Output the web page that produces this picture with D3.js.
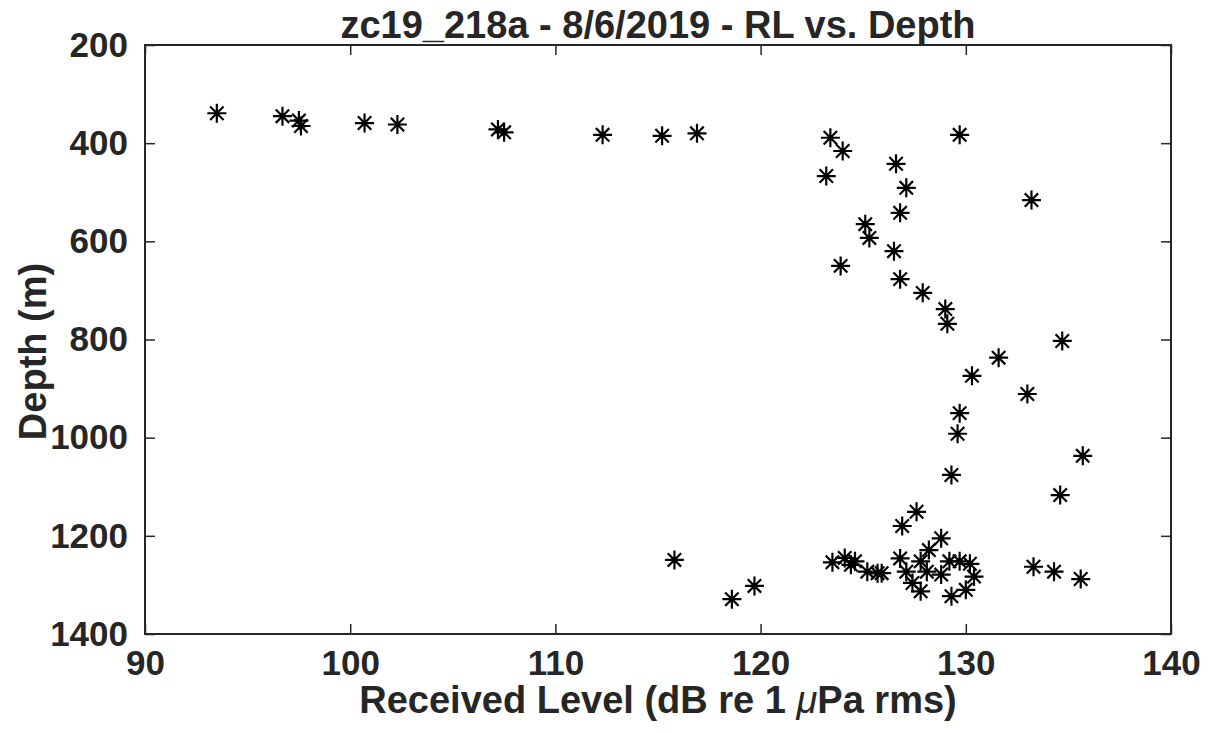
<!DOCTYPE html>
<html>
<head>
<script src="https://d3js.org/d3.v7.min.js"></script>
<style>
  body { margin: 0; background: #fff; }
  text { font-family: "Liberation Sans", Arial, sans-serif; font-weight: bold; fill: #262626; }
</style>
</head>
<body>
<svg class="target"></svg>
<script>

// received level (dB re 1 uPa rms) and depth (m)
rl = [93.5, 96.7, 97.5, 97.6, 100.7, 102.3, 107.2, 107.5, 112.3, 115.2, 116.9,
      123.4, 124.0, 123.2, 126.6, 127.1, 126.8, 129.7, 133.2, 125.1, 125.3,
      126.5, 123.9, 126.8, 127.9, 129.0, 129.1, 134.7, 131.6, 130.3, 133.0,
      129.7, 129.6, 135.7, 129.3, 134.6, 127.6, 126.9, 128.8, 128.2, 126.8,
      127.8, 129.2, 129.7, 130.2, 127.1, 128.1, 128.8, 130.4, 127.4, 127.8,
      129.3, 130.0, 125.9, 123.5, 124.1, 124.4, 124.6, 125.2, 125.7, 115.8,
      118.6, 119.7, 133.3, 134.3, 135.6]
depth = [339, 345, 354, 365, 359, 362, 372, 378, 383, 385, 380,
         389, 416, 467, 442, 491, 542, 383, 516, 565, 593,
         620, 650, 677, 705, 738, 768, 803, 837, 874, 911,
         950, 992, 1037, 1076, 1117, 1151, 1180, 1205, 1229, 1246,
         1252, 1252, 1252, 1257, 1273, 1273, 1279, 1283, 1296, 1313,
         1323, 1310, 1276, 1254, 1245, 1259, 1252, 1273, 1276, 1249,
         1329, 1302, 1263, 1273, 1288]

xTicks = [90, 100, 110, 120, 130, 140]
yTicks = [200, 400, 600, 800, 1000, 1200, 1400]

titleText = 'zc19_218a - 8/6/2019 - RL vs. Depth'
xLabelParts = ['Received Level (dB re 1 ', '\u03bc', 'Pa rms)']
yLabel = 'Depth (m)'

width = 1209
height = 733
margin = ({ top: 45, right: 38, bottom: 99, left: 145 })

svg = d3.select('.target')
  .attr('width', width)
  .attr('height', height)

x = d3.scaleLinear().domain([90, 140]).range([margin.left, width - margin.right])
y = d3.scaleLinear().domain([200, 1400]).range([margin.top, height - margin.bottom])

axisColor = '#262626'
tickLen = 10

// box
svg.append('rect')
  .attr('x', x(90)).attr('y', y(200))
  .attr('width', x(140) - x(90)).attr('height', y(1400) - y(200))
  .attr('fill', 'none').attr('stroke', axisColor).attr('stroke-width', 2)

// axes, ticks pointing inward
function styleAxis(g) {
  g.select('.domain').remove()
  g.selectAll('.tick line').attr('stroke', axisColor).attr('stroke-width', 1.5)
  g.selectAll('.tick text').attr('font-size', 35).attr('fill', axisColor)
    .style('font-family', '"Liberation Sans", Arial, sans-serif').style('font-weight', 'bold')
}

svg.append('g')
  .attr('transform', `translate(0,${y(1400)})`)
  .call(d3.axisBottom(x).tickValues(xTicks).tickSizeInner(-tickLen).tickSizeOuter(0).tickPadding(16))
  .call(styleAxis)

svg.append('g')
  .attr('transform', `translate(0,${y(200)})`)
  .call(d3.axisTop(x).tickValues(xTicks).tickSizeInner(-tickLen).tickSizeOuter(0).tickFormat(''))
  .call(styleAxis)

svg.append('g')
  .attr('transform', `translate(${x(90)},0)`)
  .call(d3.axisLeft(y).tickValues(yTicks).tickSizeInner(-tickLen).tickSizeOuter(0).tickPadding(17).tickFormat(d3.format('d')))
  .call(styleAxis)

svg.append('g')
  .attr('transform', `translate(${x(140)},0)`)
  .call(d3.axisRight(y).tickValues(yTicks).tickSizeInner(-tickLen).tickSizeOuter(0).tickFormat(''))
  .call(styleAxis)

// asterisk markers
r = 9.5
d = r * Math.SQRT1_2
star = `M${-r},0L${r},0M0,${-r}L0,${r}M${-d},${-d}L${d},${d}M${-d},${d}L${d},${-d}`

svg.append('g')
  .selectAll('path')
  .data(d3.range(rl.length))
  .join('path')
    .attr('transform', i => `translate(${x(rl[i])},${y(depth[i])})`)
    .attr('d', star)
    .attr('fill', 'none')
    .attr('stroke', '#000')
    .attr('stroke-width', 2.2)

// title and labels
svg.append('text')
  .attr('x', (x(90) + x(140)) / 2).attr('y', 38)
  .attr('text-anchor', 'middle').attr('font-size', 38)
  .attr('fill', '#000')
  .text(titleText)

xl = svg.append('text')
  .attr('x', (x(90) + x(140)) / 2).attr('y', 713)
  .attr('text-anchor', 'middle').attr('font-size', 38)
xl.append('tspan').text(xLabelParts[0])
xl.append('tspan').attr('font-style', 'italic').attr('font-weight', 'normal').text(xLabelParts[1])
xl.append('tspan').text(xLabelParts[2])

svg.append('text')
  .attr('transform', `translate(46,${(y(200) + y(1400)) / 2 + 12}) rotate(-90)`)
  .attr('text-anchor', 'middle').attr('font-size', 38)
  .text(yLabel)

</script>
</body>
</html>
